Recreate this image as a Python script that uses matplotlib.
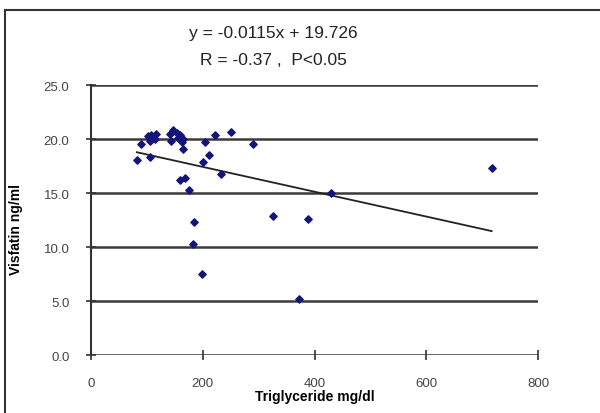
import matplotlib
matplotlib.use("Agg")
import matplotlib.pyplot as plt
from matplotlib.patches import Rectangle
import numpy as np

plt.rcParams['font.family'] = ['Liberation Sans', 'DejaVu Sans']

# triglyceride (mg/dl) vs visfatin (ng/ml)
tg = [82, 90, 105, 102, 108, 117, 114, 105, 141, 147, 153, 159, 144, 156,
      165, 162, 165, 160, 168, 175, 184, 183, 198, 200, 204, 211, 221, 233,
      251, 290, 325, 372, 388, 430, 717]
visfatin = [18.1, 19.5, 18.3, 20.3, 20.4, 20.5, 20.0, 19.8, 20.5, 20.8, 20.6,
            20.4, 19.8, 20.1, 20.0, 19.7, 19.1, 16.2, 16.4, 15.3, 12.3, 10.3,
            7.5, 17.9, 19.7, 18.5, 20.4, 16.8, 20.7, 19.5, 12.9, 5.2, 12.6,
            15.0, 17.3]

slope = -0.0115
intercept = 19.726
eq_text = "y = -0.0115x + 19.726"
stat_text = "R = -0.37 ,  P<0.05"

x_ticks = [0, 200, 400, 600, 800]
y_ticks = [0, 5, 10, 15, 20, 25]

fig = plt.figure(figsize=(6, 4.14), dpi=100)
ax = fig.add_axes([0.1517, 0.140, 0.745, 0.652])

# outer chart frame
fig.patches.append(Rectangle((0.008, -0.05), 1.1, 1.023, transform=fig.transFigure,
                             fill=False, edgecolor='#333333', linewidth=1.5))

for v in y_ticks:
    ax.axhline(v, color='#3a3a3a', linewidth=1.8, zorder=1)

ax.scatter(tg, visfatin, marker='D', s=14, color='#14147a', zorder=3)

xl = np.array([min(tg), max(tg)])
ax.plot(xl, slope * xl + intercept, color='#222222', linewidth=1.3, zorder=2)

ax.set_xlim(0, 800)
ax.set_ylim(0, 25)
ax.set_xticks(x_ticks)
ax.set_yticks(y_ticks)
ax.set_yticklabels([f"{v:.1f}" for v in y_ticks])
ax.tick_params(direction='inout', length=7, width=1.2, color='#333333',
               labelsize=9.5, labelcolor='#444444')
ax.tick_params(axis='x', pad=12)
ax.tick_params(axis='y', pad=12)

for s in ['top', 'right']:
    ax.spines[s].set_visible(False)
ax.spines['left'].set_linewidth(1.5)
ax.spines['left'].set_color('#333333')
ax.spines['bottom'].set_visible(False)

ax.set_xlabel("Triglyceride mg/dl", fontsize=10, fontweight='bold', labelpad=0)
ax.set_ylabel("Visfatin ng/ml", fontsize=10, fontweight='bold')
ax.yaxis.set_label_coords(-0.152, 0.47)

fig.text(0.455, 0.92, eq_text, ha='center', va='center', fontsize=12.5, color='#222222')
fig.text(0.455, 0.855, stat_text, ha='center', va='center', fontsize=12.5, color='#222222')

fig.savefig("out.png", dpi=100)
